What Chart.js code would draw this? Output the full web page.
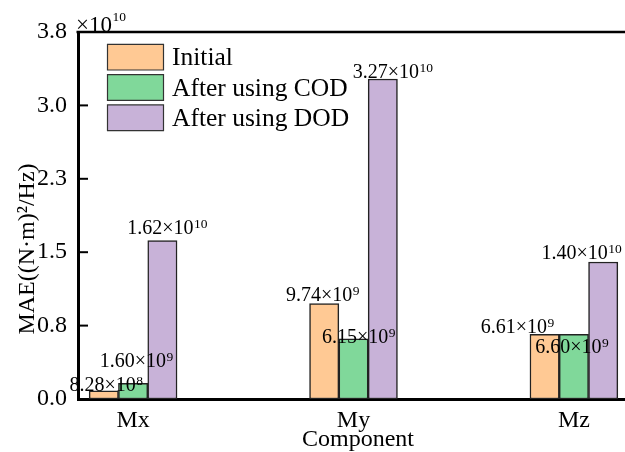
<!DOCTYPE html>
<html>
<head>
<meta charset="utf-8">
<script src="https://cdn.jsdelivr.net/npm/chart.js@4.4.0/dist/chart.umd.min.js"></script>
<style>
  html, body { margin: 0; padding: 0; background: #fff; overflow: hidden; }
  canvas { display: block; }
</style>
</head>
<body>
<canvas id="maeChart" width="625" height="452"></canvas>
<script>
// data
const components = ['Mx', 'My', 'Mz'];
const initialMae = [8.28e8, 9.74e9, 6.61e9];
const codMae = [1.60e9, 6.15e9, 6.60e9];
const dodMae = [1.62e10, 3.27e10, 1.40e10];
const seriesNames = ['Initial', 'After using COD', 'After using DOD'];
const yTicks = [0, 0.75e10, 1.5e10, 2.25e10, 3.0e10, 3.75e10];

const FONT = "'Liberation Serif', 'Times New Roman', serif";
const colors = ['#FFC994', '#80D89A', '#C8B2D8'];
const CATEGORY_PX = 220.4;   // spacing between category centres

// label nudges (px) per dataset / category, as placed in the original figure
const labelNudge = [
    [[2.5, 0], [-1.5, -2.3], [-27, -1.6]],
    [[3.5, -16.6], [5.2, 4.3], [-1.9, 18.3]],
    [[5, -6], [10, -1.4], [-21.5, -3.4]]
];

function sciParts(v) {
    const e = Math.floor(Math.log10(v));
    return { mant: (v / Math.pow(10, e)).toFixed(2), exp: String(e) };
}

function drawSci(ctx, main, exp, x, base, size, expSize, rise) {
    ctx.font = size + 'px ' + FONT;
    const w1 = ctx.measureText(main).width;
    ctx.fillText(main, x, base);
    ctx.font = expSize + 'px ' + FONT;
    ctx.fillText(exp, x + w1 + 0.5, base - rise);
}

const decorPlugin = {
    id: 'decor',
    afterDraw(chart) {
        const ctx = chart.ctx;
        const area = chart.chartArea;
        const y = chart.scales.y;
        ctx.save();

        // top frame line
        ctx.strokeStyle = '#000';
        ctx.lineWidth = 2.5;
        ctx.beginPath();
        ctx.moveTo(area.left - 1.5, area.top);
        ctx.lineTo(area.right, area.top);
        ctx.stroke();

        // inward ticks on y axis
        ctx.lineWidth = 2;
        y.ticks.forEach(t => {
            const py = y.getPixelForValue(t.value);
            ctx.beginPath();
            ctx.moveTo(area.left, py);
            ctx.lineTo(area.left + 10, py);
            ctx.stroke();
        });

        // axis multiplier
        ctx.fillStyle = '#000';
        ctx.textBaseline = 'alphabetic';
        ctx.textAlign = 'left';
        drawSci(ctx, '×10', '10', 76, 31.7, 23, 13.5, 11);

        // value labels
        chart.data.datasets.forEach((ds, di) => {
            const meta = chart.getDatasetMeta(di);
            meta.data.forEach((bar, i) => {
                const p = sciParts(ds.data[i]);
                const main = p.mant + '×10';
                ctx.font = '20px ' + FONT;
                const w1 = ctx.measureText(main).width;
                ctx.font = '13.5px ' + FONT;
                const w2 = ctx.measureText(p.exp).width;
                const total = w1 + 0.5 + w2;
                const nd = labelNudge[di][i];
                drawSci(ctx, main, p.exp, bar.x - total / 2 + nd[0], bar.y + nd[1], 20, 13.5, 6);
            });
        });

        // legend
        chart.data.datasets.forEach((ds, di) => {
            const top = 44.3 + di * 30.3;
            ctx.fillStyle = ds.backgroundColor;
            ctx.beginPath();
            ctx.rect(107.5, top, 56, 25.7);
            ctx.fill();
            ctx.strokeStyle = '#333';
            ctx.lineWidth = 1.2;
            ctx.stroke();
            ctx.fillStyle = '#000';
            ctx.font = '25.5px ' + FONT;
            ctx.fillText(ds.label, 172, top + 21);
        });

        // axis titles
        ctx.font = '24px ' + FONT;
        ctx.textAlign = 'center';
        ctx.fillText('Component', 358, 446);
        ctx.translate(34, 249);
        ctx.rotate(-Math.PI / 2);
        ctx.fillText('MAE((N·m)²/Hz)', 0, 0);
        ctx.restore();
    }
};

new Chart(document.getElementById('maeChart'), {
    type: 'bar',
    data: {
        labels: components,
        datasets: [initialMae, codMae, dodMae].map((d, i) => ({
            label: seriesNames[i],
            data: d,
            backgroundColor: colors[i],
            borderColor: '#222',
            borderWidth: 1.5,
            borderSkipped: false,
            barThickness: 29.3
        }))
    },
    options: {
        responsive: false,
        animation: false,
        layout: { padding: { top: 32, right: 0, left: 0, bottom: 0 } },
        plugins: { legend: { display: false }, tooltip: { enabled: false } },
        scales: {
            x: {
                grid: { display: false, drawTicks: false },
                border: { display: true, color: '#000', width: 3 },
                ticks: { color: '#000', font: { family: FONT, size: 24 }, padding: 7 },
                afterBuildTicks(scale) {
                    // first category centre sits a quarter spacing from the y axis
                    scale._startValue = -0.25;
                    scale._valueRange = scale.width / CATEGORY_PX;
                },
                afterFit(scale) { scale.height = 53; }
            },
            y: {
                min: 0,
                max: yTicks[yTicks.length - 1],
                grid: { display: false, drawTicks: false },
                border: { display: true, color: '#000', width: 3 },
                afterBuildTicks(scale) {
                    scale.ticks = yTicks.map(v => ({ value: v }));
                },
                ticks: {
                    color: '#000',
                    font: { family: FONT, size: 24 },
                    padding: 11,
                    callback: v => (v / 1e10).toFixed(1)
                },
                afterFit(scale) { scale.width = 78; }
            }
        }
    },
    plugins: [decorPlugin]
});
</script>
</body>
</html>
